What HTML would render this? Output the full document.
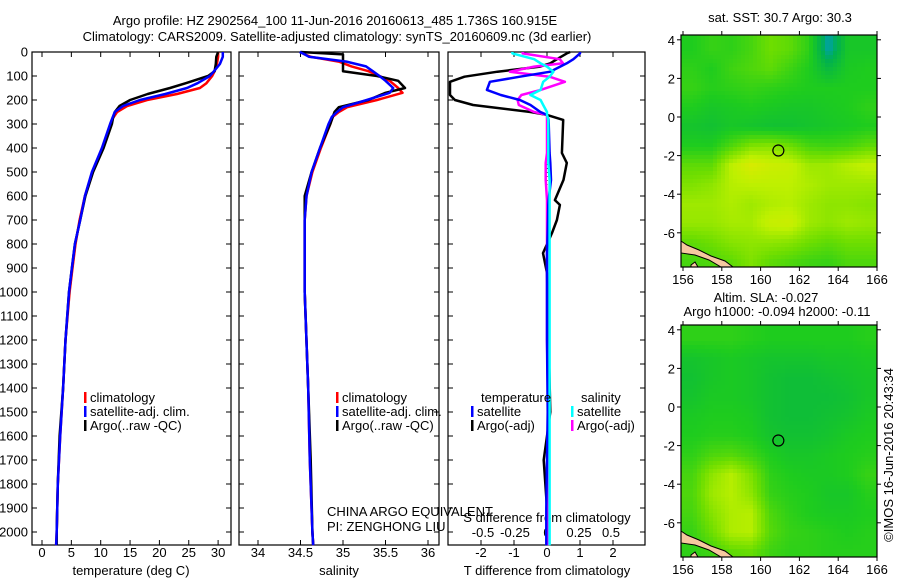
<!DOCTYPE html>
<html><head><meta charset="utf-8"><style>
body{margin:0;background:#fff}
svg{display:block;font-family:"Liberation Sans",sans-serif}
text{font-size:13px;fill:#000}
</style></head><body>
<svg id="fig" width="900" height="580" viewBox="0 0 900 580">
<g>
<text x="335" y="25" text-anchor="middle" font-size="14">Argo profile: HZ 2902564_100 11-Jun-2016 20160613_485 1.736S 160.915E</text>
<text x="337" y="41" text-anchor="middle" font-size="14">Climatology: CARS2009. Satellite-adjusted climatology: synTS_20160609.nc (3d earlier)</text>
</g>
<g id="maps"></g>
<g id="panels"></g>
<text x="327" y="516">CHINA ARGO EQUIVALENT</text>
<text x="327" y="531">PI: ZENGHONG LIU</text>
<text x="780" y="22" text-anchor="middle">sat. SST: 30.7 Argo: 30.3</text>
<text x="766" y="302" text-anchor="middle">Altim. SLA: -0.027</text>
<text x="777" y="316" text-anchor="middle">Argo h1000: -0.094 h2000: -0.11</text>
<text transform="translate(893,455) rotate(-90)" text-anchor="middle">©IMOS 16-Jun-2016 20:43:34</text>
</svg>
<script>
// ---- profile data ----
const depthT = [0,20,50,80,100,130,150,175,200,225,250,275,300,400,500,600,700,800,900,1000,1200,1400,1600,1800,2000,2055];
const tempSat = [30.8,30.8,30.3,29.3,28.6,26.5,24.7,21,16.7,13.8,12.4,12,11.6,10.2,8.5,7.3,6.5,5.6,5.1,4.6,4.0,3.6,3.1,2.7,2.5,2.4];
const tempClim = [30.0,30.0,29.8,29.4,29.0,28.0,26.9,23,17.9,14.5,12.8,12.1,11.7,10.3,8.6,7.3,6.4,5.7,5.2,4.7,4.0,3.6,3.1,2.7,2.5,2.4];
const tempArgo = [30.0,29.7,29.6,29.4,28.3,24.5,21.8,18,15,13.2,12.4,12.1,11.9,10.5,8.7,7.4,6.5,5.6,5.1,4.6,4.0,3.6,3.0,2.7,2.5,2.5];
const depthS = [0,10,20,40,60,80,100,120,150,170,200,230,250,270,300,400,500,600,700,1000,1400,1700,2000,2055];
const salSat = [34.49,34.55,34.6,35.04,35.27,35.35,35.43,35.5,35.59,35.55,35.28,35.0,34.93,34.87,34.83,34.73,34.63,34.57,34.55,34.55,34.59,34.61,34.64,34.65];
const salClim = [34.5,34.55,34.62,34.95,35.1,35.3,35.43,35.55,35.65,35.7,35.4,35.05,34.95,34.88,34.85,34.74,34.64,34.57,34.55,34.55,34.59,34.61,34.64,34.65];
const salArgo = [34.5,35.0,35.0,35.0,35.0,35.0,35.4,35.65,35.73,35.5,35.3,34.95,34.9,34.88,34.85,34.73,34.63,34.55,34.55,34.55,34.59,34.62,34.64,34.65];
const depthD = [0,6,30,47,61,82,103,124,158,179,200,221,250,262,283,421,462,533,617,637,700,754,838,921,1200,1500,1700,1900,2055];
const tDiffArgo = [0.7,0.6,0.3,0.1,-0.21,-1.5,-2.5,-2.94,-2.94,-2.94,-2.79,-2.24,-0.5,0,0.49,0.45,0.6,0.5,0.24,0.39,0.3,0.15,-0.12,0,0.05,0.1,-0.1,0,0];
const tDiffSat = [1.0,1.0,0.8,0.6,0.4,0.1,-0.82,-1.73,-1.82,-1.4,-0.82,-0.5,-0.2,0,0.05,0.08,0.1,0.12,0.05,0.04,0.03,0.02,0,0,0,0.02,0,-0.02,-0.02];
const sDiffArgo = [-0.19,-0.19,0.1,0.125,-0.1,-0.29,0.02,0.14,-0.05,-0.2,-0.23,-0.22,-0.1,0,0,0,-0.01,-0.01,0,0,0,0,0,0,0,0.01,0.01,0.01,0.01];
const sDiffSat = [-0.27,-0.27,-0.1,-0.05,0.0,0.05,0.02,-0.03,-0.05,-0.13,-0.05,-0.03,0,0,0.01,0.01,0.01,0.02,0.02,0.02,0.02,0.02,0.02,0.02,0.02,0.02,0.02,0.02,0.02];
const depthTicks = [0,100,200,300,400,500,600,700,800,900,1000,1100,1200,1300,1400,1500,1600,1700,1800,1900,2000];
const tempTicks = [0,5,10,15,20,25,30];
const salTicks = [34,34.5,35,35.5,36];
const tDiffTicks = [-2,-1,0,1,2];
const sDiffTicks = [-0.5,-0.25,0,0.25,0.5];
// ---- map data (coarse grids, rows lat 4 -> -7, cols lon 156 -> 165.5) ----
const sstGrid = [
 [1,1.3,1.2,1.5,2,1.8,1.2,-0.6,0.8,0.8],
 [1.2,1,1.4,1.6,1.8,1.4,1,0.3,0.9,1],
 [1.3,1.1,1.2,1.3,1.2,1.1,1,1,1,1],
 [1,0.8,0.9,1,0.9,0.8,0.8,0.9,1,1.2],
 [0.7,0.6,0.8,0.7,0.6,0.6,0.7,0.8,0.9,1],
 [1,1,1.6,2.2,2.3,2,1.5,1.4,1.5,1.8],
 [1.8,1.8,3,3.6,3.3,3.2,2.6,2.6,2.9,3.1],
 [2.2,2.4,2.9,3,3,3,2.8,2.6,2.6,2.6],
 [2.6,2.6,2.8,2.6,2.8,2.9,2.6,2.4,2.4,2.3],
 [2.5,2.5,2.7,2.7,3.2,3.3,2.6,2.4,2.6,2.5],
 [1.8,2,2.3,2.4,2.4,2.3,2,1.8,2,2],
 [1.5,1.6,1.8,2.2,1.8,1.6,1.4,1.3,1.6,1.6]
];
const slaGrid = [
 [1.2,1.2,1.2,1.1,1,1,1,1,1,1.1],
 [0.7,0.8,0.9,0.8,0.7,0.7,0.7,0.8,0.8,0.9],
 [0.6,0.8,0.9,0.8,0.6,0.5,0.5,0.6,0.7,0.8],
 [0.7,0.9,0.9,0.8,0.6,0.5,0.5,0.5,0.6,0.8],
 [0.9,1,1,0.9,0.6,0.5,0.5,0.6,0.7,0.9],
 [1,1.1,1.1,1,0.7,0.6,0.6,0.7,0.9,1],
 [1.2,1.6,1.7,1.4,1,0.8,0.8,0.9,1,1.1],
 [1.5,2.4,2.9,2.2,1.2,1,0.9,0.9,1,1.3],
 [1.6,2.6,2.9,2.4,1.3,1.1,1,0.8,0.8,1.1],
 [1.5,2.3,2.8,2.9,1.6,1.2,1,0.9,0.9,1],
 [1.3,2,2.8,2.9,1.7,1.3,1.2,1.1,1,1.1],
 [1.2,1.4,1.8,1.9,1.4,1.2,1.2,1.1,1.1,1.1]
];
const lonTicks = [156,158,160,162,164,166];
const latTicks = [4,2,0,-2,-4,-6];
const argoLon = 160.915, argoLat = -1.736;

const NS = 'http://www.w3.org/2000/svg';
function mk(tag, attrs, parent){const e=document.createElementNS(NS,tag);for(const k in attrs)e.setAttribute(k,attrs[k]);parent.appendChild(e);return e;}
const panels = document.getElementById('panels');
const yD = d => 52 + d*0.24;
const PB = 545;

function panel(x0,x1,name){
  const g = mk('g',{},panels);
  
  
  const r = mk('rect',{x:x0,y:52,width:x1-x0,height:PB-52,fill:'none',stroke:'#000','stroke-width':1.2},g);
  
  
  depthTicks.forEach(d=>{
    mk('line',{x1:x0,x2:x0+5,y1:yD(d),y2:yD(d),stroke:'#000'},g);
    mk('line',{x1:x1-5,x2:x1,y1:yD(d),y2:yD(d),stroke:'#000'},g);
  });
  return g;
}
function xticks(g,ticks,fx,y,labels){
  ticks.forEach(t=>{
    const x=fx(t);
    mk('line',{x1:x,x2:x,y1:PB,y2:PB-5,stroke:'#000'},g);
    mk('line',{x1:x,x2:x,y1:52,y2:57,stroke:'#000'},g);
    if(labels){const tx=mk('text',{x:x,y:y,'text-anchor':'middle'},g);tx.textContent=String(t);
      
      }
  });
}
function line(g,xs,ds,fx,color,name,w){
  const pts = xs.map((v,i)=>fx(v).toFixed(1)+','+yD(ds[i]).toFixed(1)).join(' ');
  const p = mk('polyline',{points:pts,fill:'none',stroke:color,'stroke-width':w||2.5,'stroke-linejoin':'round'},g);
  
  
}
function txt(g,x,y,s,name,anchor){const t=mk('text',{x:x,y:y,'text-anchor':anchor||'start'},g);t.textContent=s;
  
  return t;}
function legend(g,x,y,color,s,name){
  mk('rect',{x:x,y:y-10,width:2.5,height:11,fill:color},g);
  txt(g,x+6,y,s,name);
}

const yl = mk('g',{},panels);


depthTicks.forEach(d=>{txt(yl,28,yD(d)+4.5,String(d),'depth-tick-label','end');});

const xT = t => 42 + t*5.87;
const g1 = panel(32,231,'temperature-panel');
xticks(g1,tempTicks,xT,557,true);
txt(g1,131,575,'temperature (deg C)','x-axis-title-temperature','middle');
line(g1,tempClim,depthT,xT,'#ff0000','temp-climatology-line');
line(g1,tempArgo,depthT,xT,'#000000','temp-argo-line');
line(g1,tempSat,depthT,xT,'#0000ff','temp-satellite-line');
legend(g1,84,402,'#ff0000','climatology','legend-climatology');
legend(g1,84,416,'#0000ff','satellite-adj. clim.','legend-satellite');
legend(g1,84,430,'#000000','Argo(..raw -QC)','legend-argo');

const xS = s => 258 + (s-34)*85;
const g2 = panel(239,439,'salinity-panel');
xticks(g2,salTicks,xS,557,true);
txt(g2,339,575,'salinity','x-axis-title-salinity','middle');
line(g2,salClim,depthS,xS,'#ff0000','sal-climatology-line');
line(g2,salArgo,depthS,xS,'#000000','sal-argo-line');
line(g2,salSat,depthS,xS,'#0000ff','sal-satellite-line');
legend(g2,336,402,'#ff0000','climatology','legend-climatology-2');
legend(g2,336,416,'#0000ff','satellite-adj. clim.','legend-satellite-2');
legend(g2,336,430,'#000000','Argo(..raw -QC)','legend-argo-2');

const xTd = v => 547 + v*33;
const xSd = v => 547 + v*128;
const g3 = panel(448,645,'difference-panel');
xticks(g3,tDiffTicks,xTd,557,true);
sDiffTicks.forEach(v=>txt(g3,xSd(v),537,String(v),'s-diff-tick-label','middle'));
txt(g3,547,522,'S difference from climatology','s-diff-axis-title','middle');
txt(g3,547,575,'T difference from climatology','t-diff-axis-title','middle');
mk('line',{x1:547,x2:547,y1:yD(300),y2:PB,stroke:'#000','stroke-dasharray':'1,3'},g3);
line(g3,tDiffArgo,depthD,xTd,'#000000','t-diff-argo-line');
line(g3,sDiffArgo,depthD,xSd,'#ff00ff','s-diff-argo-line');
line(g3,tDiffSat,depthD,xTd,'#0000ff','t-diff-satellite-line');
line(g3,sDiffSat,depthD,xSd,'#00ffff','s-diff-satellite-line');
txt(g3,481,402,'temperature','legend-temperature-header');
txt(g3,581,402,'salinity','legend-salinity-header');
legend(g3,471,416,'#0000ff','satellite','legend-t-satellite');
legend(g3,471,430,'#000000','Argo(-adj)','legend-t-argo');
legend(g3,571,416,'#00ffff','satellite','legend-s-satellite');
legend(g3,571,430,'#ff00ff','Argo(-adj)','legend-s-argo');

const maps = document.getElementById('maps');
const stops = [[-1,[0,150,230]],[0,[0,176,80]],[1,[30,204,30]],[2,[110,222,0]],[3,[190,240,0]],[4,[232,232,0]]];
function cmap(v){
  if(v<=stops[0][0])return stops[0][1];
  for(let i=1;i<stops.length;i++){if(v<=stops[i][0]){const a=stops[i-1],b=stops[i];const f=(v-a[0])/(b[0]-a[0]);return a[1].map((c,k)=>Math.round(c+(b[1][k]-c)*f));}}
  return stops[stops.length-1][1];
}
function sample(grid,lon,lat){
  const fc=Math.min(Math.max((lon-156)-0.5,0),grid[0].length-1.001);
  const fr=Math.min(Math.max((4-lat)-0.5,0),grid.length-1.001);
  const c=Math.floor(fc),r=Math.floor(fr),dc=fc-c,dr=fr-r;
  const c1=Math.min(c+1,grid[0].length-1),r1=Math.min(r+1,grid.length-1);
  return grid[r][c]*(1-dc)*(1-dr)+grid[r][c1]*dc*(1-dr)+grid[r1][c]*(1-dc)*dr+grid[r1][c1]*dc*dr;
}
function drawMap(grid,yTop,name,cell){
  const x0=681,x1=877,y0=yTop,y1=yTop+232;
  const lonX = lon => 683 + (lon-156)*19.4;
  const lat0 = yTop+82;
  const latY = lat => lat0 - lat*19.3;
  const g = mk('g',{},maps);
  
  
  for(let y=y0;y<y1;y+=cell){for(let x=x0;x<x1;x+=cell){
    const lon=156+(x+cell/2-683)/19.4, lat=(lat0-(y+cell/2))/19.3;
    const c=cmap(sample(grid,lon,lat));
    mk('rect',{x:x,y:y,width:Math.min(cell,x1-x),height:Math.min(cell,y1-y),fill:'rgb('+c.join(',')+')'},g);
  }}
  mk('path',{d:`M${x0} ${y1-26} L${x0+6} ${y1-22} L${x0+18} ${y1-17} L${x0+30} ${y1-11} L${x0+44} ${y1-6} L${x0+52} ${y1} L${x0+40} ${y1} L${x0+28} ${y1-7} L${x0+14} ${y1-12} L${x0} ${y1-14} Z`,fill:'#f5c8a0',stroke:'#000','stroke-width':1},g);
  mk('path',{d:`M${x0+10} ${y1-2} L${x0+14} ${y1-5} L${x0+17} ${y1} L${x0+10} ${y1} Z`,fill:'#f5c8a0',stroke:'#000','stroke-width':1},g);
  const fr=mk('rect',{x:x0,y:y0,width:x1-x0,height:y1-y0,fill:'none',stroke:'#000','stroke-width':1.2},g);
  
  
  lonTicks.forEach(l=>{const x=lonX(l);mk('line',{x1:x,x2:x,y1:y1,y2:y1+4,stroke:'#000'},g);mk('line',{x1:x,x2:x,y1:y0,y2:y0-4,stroke:'#000'},g);
    txt(g,x,y1+17,String(l),'lon-tick-label','middle');});
  latTicks.forEach(l=>{const y=latY(l);mk('line',{x1:x0-4,x2:x0,y1:y,y2:y,stroke:'#000'},g);mk('line',{x1:x1,x2:x1+4,y1:y,y2:y,stroke:'#000'},g);
    txt(g,x0-6,y+5,String(l),'lat-tick-label','end');});
  const c=mk('circle',{cx:lonX(argoLon),cy:latY(argoLat),r:5.5,fill:'none',stroke:'#000','stroke-width':1.2},g);
  
  
}
drawMap(sstGrid,35,'sst-map',4);
drawMap(slaGrid,325,'sla-map',4);
</script>
</body></html>
